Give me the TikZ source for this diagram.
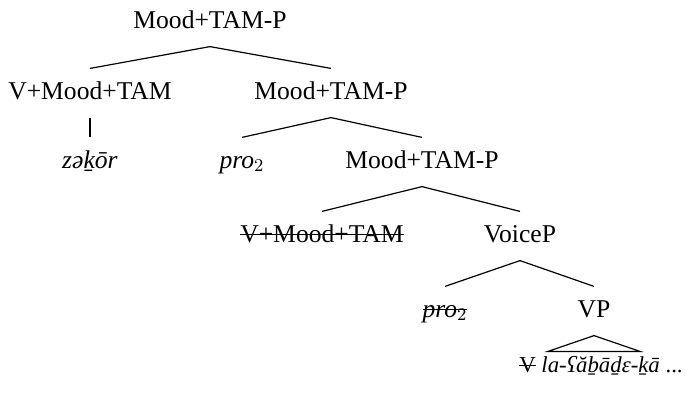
\documentclass[tikz,border=0pt]{standalone}
\usepackage{fontspec}
\setmainfont{Liberation Serif}
\usetikzlibrary{calc}

\tikzset{lbl/.style={anchor=base, inner xsep=0pt, inner ysep=6pt, text height=9pt, text depth=3pt}}
\newcommand{\lex}[1]{\textit{#1}}
\newcommand{\pron}{\lex{pro}$_2$}
% struck-through copy of a moved item
\newcommand{\strike}[1]{\setbox0\hbox{#1}\rlap{\rule[.27em]{\wd0}{.5pt}}\box0\relax}

\begin{document}
\begin{tikzpicture}[x=.5pt,y=-.5pt,line width=.6pt,font=\fontsize{12.8}{15}\selectfont,every node/.style=lbl]
\useasboundingbox (0,0) rectangle (686,392);
\node (top) at (210,28) {Mood+TAM-P};
\node (vmt) at (90,99) {V+Mood+TAM};
\node (mtp) at (331,99) {Mood+TAM-P};
\node (zkr) at (90,168) {\lex{zəḵōr}};
\node (pro) at (242,168) {\pron};
\node (mtpb) at (422,168) {Mood+TAM-P};
\node (vmtb) at (322,242) {\strike{V+Mood+TAM}};
\node (voi) at (520,242) {VoiceP};
\node (prob) at (445,317) {\strike{\pron}};
\node (vp) at (594,317) {VP};
\node[inner ysep=1pt,font=\fontsize{11.4}{14}\selectfont] (low) at (601,372) {\strike{V} \lex{la-ʕăḇāḏɛ-ḵā} ...};
% branches
\draw (top.south) -- (vmt.north) (top.south) -- (mtp.north);
\draw (vmt.south) -- (zkr.north);
\draw (mtp.south) -- (pro.north) (mtp.south) -- (mtpb.north);
\draw (mtpb.south) -- (vmtb.north) (mtpb.south) -- (voi.north);
\draw (voi.south) -- (prob.north) (voi.south) -- (vp.north);
% roof over the VP
\draw (vp.south) -- ($(vp.south |- low.north)+(-46,0)$) -- ($(vp.south |- low.north)+(46,0)$) -- cycle;
\end{tikzpicture}
\end{document}
